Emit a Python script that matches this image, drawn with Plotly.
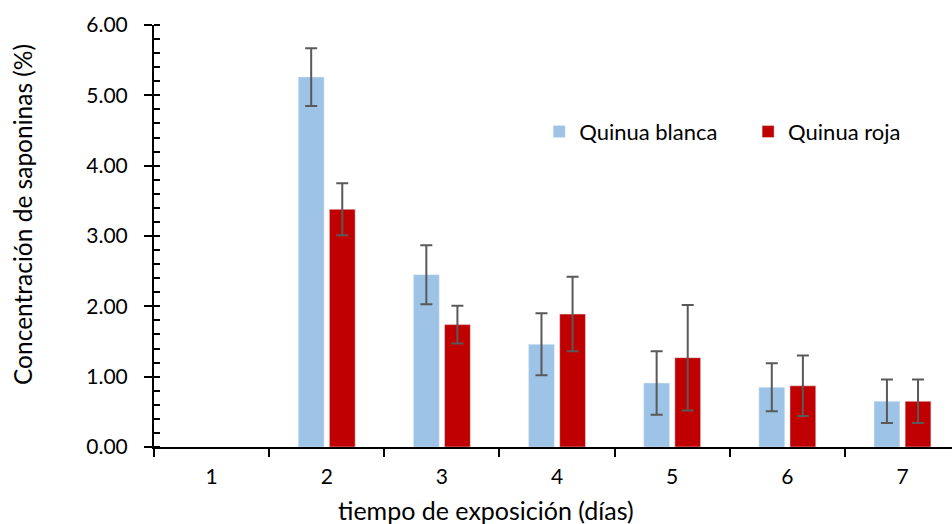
import plotly.graph_objects as go

days = ["1", "2", "3", "4", "5", "6", "7"]
blanca = [None, 5.26, 2.45, 1.46, 0.91, 0.85, 0.65]
blanca_err = [None, 0.41, 0.42, 0.44, 0.45, 0.34, 0.31]
roja = [None, 3.38, 1.74, 1.89, 1.27, 0.87, 0.65]
roja_err = [None, 0.37, 0.27, 0.53, 0.75, 0.43, 0.31]
x_title = "tiempo de exposición (días)"
y_title = "Concentración de saponinas (%)"

FONT = "Lato, Carlito, Calibri, Liberation Sans, sans-serif"
err_style = dict(type="data", visible=True, color="#595959", thickness=2, width=6)

fig = go.Figure()
fig.add_trace(go.Bar(x=days, y=blanca, name="Quinua blanca", marker_color="#9DC3E6",
                     error_y=dict(array=blanca_err, **err_style), legend="legend"))
fig.add_trace(go.Bar(x=days, y=roja, name="Quinua roja", marker_color="#C00000",
                     error_y=dict(array=roja_err, **err_style), legend="legend2"))

leg_common = dict(orientation="h", y=0.747, xanchor="left", yanchor="middle",
                  font=dict(size=22), bgcolor="rgba(0,0,0,0)")

fig.update_layout(
    width=952, height=524,
    margin=dict(l=154, r=0, t=25, b=77),
    plot_bgcolor="white", paper_bgcolor="white",
    font=dict(family=FONT, size=21, color="black"),
    barmode="group", bargap=0.46, bargroupgap=0.17,
    showlegend=True,
    legend=dict(x=0.4827, **leg_common),
    legend2=dict(x=0.7445, **leg_common),
    xaxis=dict(type="category", range=[-0.5, 6.43], showline=True, linecolor="black",
               linewidth=2, ticks="outside", tickson="boundaries", ticklen=8,
               tickcolor="black", tickwidth=2, showgrid=False, ticklabelstandoff=10),
    yaxis=dict(range=[0, 6], dtick=1, tickformat=".2f", showline=True, linecolor="black",
               linewidth=2, ticks="outside", ticklen=8, tickcolor="black", tickwidth=2,
               showgrid=False, zeroline=False, ticklabelstandoff=12,
               minor=dict(ticks="inside", dtick=0.2, ticklen=6, tickcolor="black", tickwidth=2)),
    annotations=[
        dict(text=x_title, xref="paper", yref="paper", x=0.416, y=-0.149,
             xanchor="center", yanchor="middle", showarrow=False, font=dict(size=25)),
        dict(text=y_title, xref="paper", yref="paper", x=-0.164, y=0.55, textangle=-90,
             xanchor="center", yanchor="middle", showarrow=False, font=dict(size=24.5)),
    ],
)

fig.write_html("out.html")
